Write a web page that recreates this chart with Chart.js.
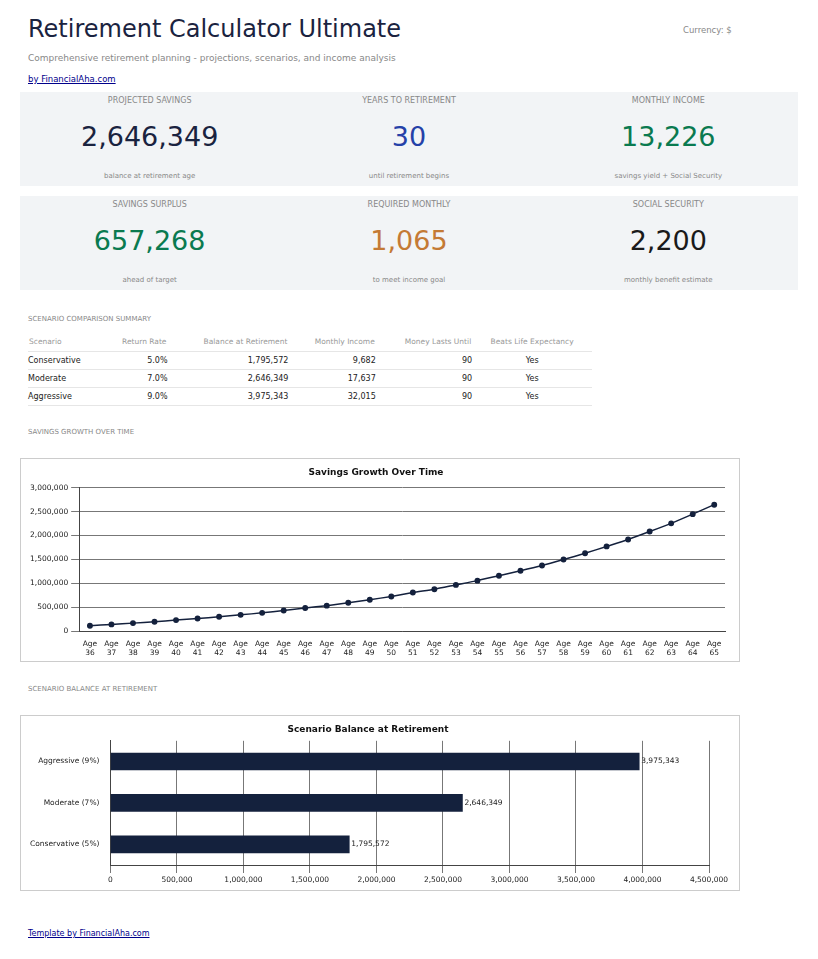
<!DOCTYPE html>
<html>
<head>
<meta charset="utf-8">
<script src="https://cdn.jsdelivr.net/npm/chart.js@4"></script>
<style>
  html, body { margin: 0; font-family: "DejaVu Sans", sans-serif; background: #fff; color: #1a2340; }
  .wrap { position: relative; width: 818px; height: 959px; }
  h1 { position: absolute; left: 28px; top: 15px; margin: 0; font-size: 24px; font-weight: normal; color: #1a2340; }
  .cur { position: absolute; left: 683px; top: 25px; font-size: 8.5px; color: #888; }
  .sub { position: absolute; left: 28px; top: 53px; font-size: 9px; color: #888; }
  .by { position: absolute; left: 28px; top: 74px; font-size: 8.5px; color: #00008b; }
  .cards { position: absolute; left: 20px; width: 778px; height: 94px; background: #f2f4f6; display: flex; }
  .card { flex: 1; text-align: center; position: relative; }
  .card .l { position: absolute; top: 4px; width: 100%; font-size: 8px; color: #888; }
  .card .v { position: absolute; top: 29px; width: 100%; font-size: 27px; }
  .card .s { position: absolute; top: 80px; width: 100%; font-size: 7px; color: #888; }
  .sec { position: absolute; left: 28px; font-size: 7px; color: #888; }
  table { position: absolute; left: 28px; top: 331px; width: 564px; border-collapse: collapse; font-size: 8px; }
  th { font-weight: normal; color: #999; text-align: right; height: 18px; font-size: 7.5px; }
  td { text-align: right; height: 17px; padding: 0; border-top: 1px solid #e6e6e6; color: #222; }
  tr:last-child td { border-bottom: 1px solid #e6e6e6; }
  th:first-child, td:first-child { text-align: left; }
  th:last-child, td:last-child { text-align: center; }
  .box { position: absolute; left: 20px; width: 718px; border: 1px solid #ccc; }
  .foot { position: absolute; left: 28px; top: 929px; font-size: 8px; color: #00008b; }
</style>
</head>
<body>
<div class="wrap">
  <h1>Retirement Calculator Ultimate</h1>
  <div class="cur">Currency: $</div>
  <div class="sub">Comprehensive retirement planning - projections, scenarios, and income analysis</div>
  <a class="by" href="#">by FinancialAha.com</a>

  <div class="cards" style="top:92px">
    <div class="card"><div class="l">PROJECTED SAVINGS</div><div class="v" style="color:#1a2340">2,646,349</div><div class="s">balance at retirement age</div></div>
    <div class="card"><div class="l">YEARS TO RETIREMENT</div><div class="v" style="color:#2541a8">30</div><div class="s">until retirement begins</div></div>
    <div class="card"><div class="l">MONTHLY INCOME</div><div class="v" style="color:#0a7a50">13,226</div><div class="s">savings yield + Social Security</div></div>
  </div>
  <div class="cards" style="top:196px">
    <div class="card"><div class="l">SAVINGS SURPLUS</div><div class="v" style="color:#0a7a50">657,268</div><div class="s">ahead of target</div></div>
    <div class="card"><div class="l">REQUIRED MONTHLY</div><div class="v" style="color:#c47a35">1,065</div><div class="s">to meet income goal</div></div>
    <div class="card"><div class="l">SOCIAL SECURITY</div><div class="v" style="color:#1a1a1a">2,200</div><div class="s">monthly benefit estimate</div></div>
  </div>

  <div class="sec" style="top:315px">SCENARIO COMPARISON SUMMARY</div>
  <table id="tbl">
    <tr><th>Scenario</th><th>Return Rate</th><th>Balance at Retirement</th><th>Monthly Income</th><th>Money Lasts Until</th><th>Beats Life Expectancy</th></tr>
  </table>

  <div class="sec" style="top:428px">SAVINGS GROWTH OVER TIME</div>
  <div class="box" style="top:458px;height:202px"><canvas id="line"></canvas></div>

  <div class="sec" style="top:685px">SCENARIO BALANCE AT RETIREMENT</div>
  <div class="box" style="top:715px;height:174px"><canvas id="bar"></canvas></div>

  <a class="foot" href="#">Template by FinancialAha.com</a>
</div>
<script>
const ages = [];
for (let a = 36; a <= 65; a++) ages.push(['Age', String(a)]);
const balances = [110000, 138000, 165000, 193000, 228000, 262000, 297000, 338000, 380000, 428000,
  483000, 531000, 593000, 655000, 724000, 807000, 876000, 966000, 1055000, 1159000,
  1262000, 1372000, 1497000, 1628000, 1772000, 1917000, 2083000, 2255000, 2448000, 2646349];

const scenarios = ['Conservative', 'Moderate', 'Aggressive'];
const rates = ['5.0%', '7.0%', '9.0%'];
const scenarioBalances = [1795572, 2646349, 3975343];
const monthlyIncome = [9682, 17637, 32015];
const lastsUntil = [90, 90, 90];
const beats = ['Yes', 'Yes', 'Yes'];
const barLabels = ['Aggressive (9%)', 'Moderate (7%)', 'Conservative (5%)'];
const barValues = [3975343, 2646349, 1795572];

const fmt = v => v.toLocaleString('en-US');
const tbl = document.getElementById('tbl');
scenarios.forEach((s, i) => {
  const tr = document.createElement('tr');
  [s, rates[i], fmt(scenarioBalances[i]), fmt(monthlyIncome[i]), lastsUntil[i], beats[i]].forEach(c => {
    const td = document.createElement('td'); td.textContent = c; tr.appendChild(td);
  });
  tbl.appendChild(tr);
});

Chart.defaults.font.family = '"DejaVu Sans", sans-serif';
Chart.defaults.font.size = 7.5;
Chart.defaults.color = '#222';
Chart.defaults.animation = false;

new Chart(document.getElementById('line'), {
  type: 'line',
  data: { labels: ages, datasets: [{ data: balances, borderColor: '#14213d', backgroundColor: '#14213d',
    borderWidth: 1.5, pointRadius: 2.2, tension: 0.2 }] },
  options: {
    responsive: true, maintainAspectRatio: false,
    layout: { padding: { left: 6, right: 14, top: 4, bottom: 2 } },
    plugins: { legend: { display: false },
      title: { display: true, text: 'Savings Growth Over Time', font: { size: 9, weight: 'bold' }, color: '#111', padding: { top: 4, bottom: 10 } } },
    scales: {
      x: { offset: true, grid: { display: false }, border: { color: '#444' }, ticks: { maxRotation: 0, autoSkip: false, padding: 1 } },
      y: { min: 0, max: 3000000, ticks: { stepSize: 500000, callback: v => fmt(v) },
        grid: { color: '#777' }, border: { color: '#444' } }
    }
  }
});

const valueLabels = {
  id: 'valueLabels',
  afterDatasetsDraw(chart) {
    const ctx = chart.ctx;
    ctx.save();
    ctx.font = '7.5px "DejaVu Sans", sans-serif';
    ctx.fillStyle = '#222';
    ctx.textBaseline = 'middle';
    chart.getDatasetMeta(0).data.forEach((el, i) => {
      ctx.fillText(fmt(chart.data.datasets[0].data[i]), el.x + 2, el.y);
    });
    ctx.restore();
  }
};

new Chart(document.getElementById('bar'), {
  type: 'bar',
  data: { labels: barLabels, datasets: [{ data: barValues, backgroundColor: '#14213d', barThickness: 17 }] },
  options: {
    indexAxis: 'y', responsive: true, maintainAspectRatio: false,
    layout: { padding: { left: 6, right: 30, top: 4, bottom: 2 } },
    plugins: { legend: { display: false },
      title: { display: true, text: 'Scenario Balance at Retirement', font: { size: 9, weight: 'bold' }, color: '#111', padding: { top: 4, bottom: 6 } } },
    scales: {
      x: { min: 0, max: 4500000, ticks: { stepSize: 500000, callback: v => fmt(v) }, grid: { color: '#777' }, border: { color: '#444' } },
      y: { grid: { display: false }, border: { color: '#444' } }
    }
  },
  plugins: [valueLabels]
});
</script>
</body>
</html>
